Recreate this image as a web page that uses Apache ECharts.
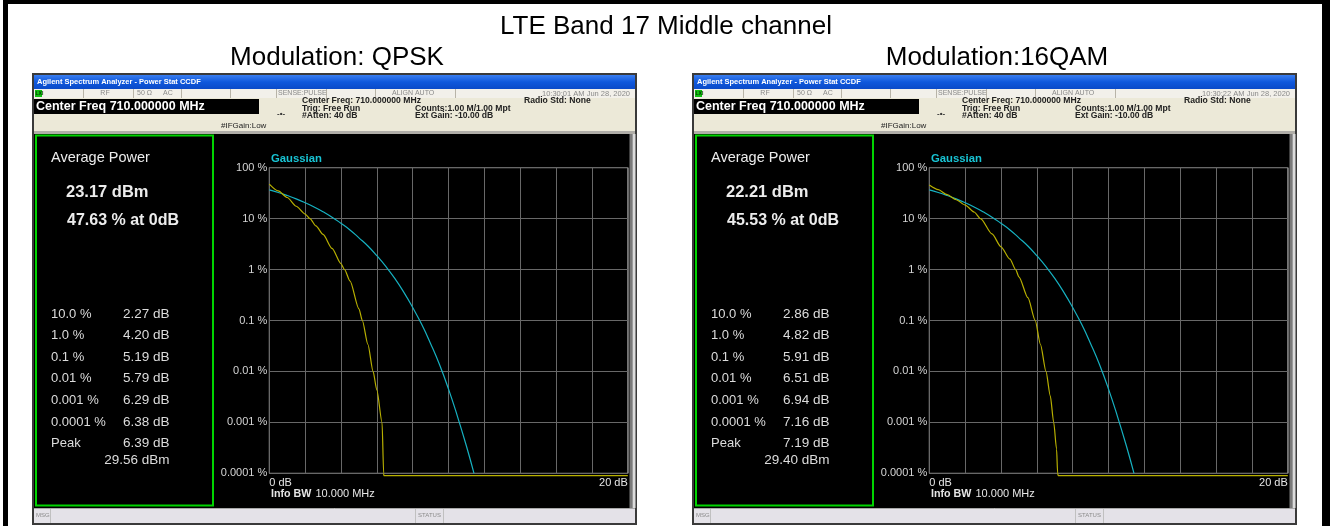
<!DOCTYPE html>
<html>
<head>
<meta charset="utf-8">
<script src="https://cdn.jsdelivr.net/npm/echarts@6/dist/echarts.min.js"></script>
<style>
html, body { margin: 0; padding: 0; background: #fff; }
#main { width: 1330px; height: 526px; }
</style>
</head>
<body>
<div id="main"></div>
<script>
// Gaussian reference curve (same on both screens)
const gaussDb  = [0, 0.5, 1, 1.5, 2, 2.5, 3, 3.5, 4, 4.5, 5, 5.5, 6, 6.5, 7, 7.5, 8, 8.5, 9, 9.5, 10, 10.5, 11, 11.42];
const gaussPct = [36.8, 32.6, 28.4, 24.4, 20.5, 16.9, 13.6, 10.7, 8.1, 6.0, 4.2, 2.9, 1.87, 1.15, 0.67, 0.36, 0.18, 0.084, 0.035, 0.0135, 0.0045, 0.0013, 0.00034, 0.0001];

// QPSK measured CCDF
const qpskDb  = [0, 0.5, 1, 1.5, 2, 2.27, 2.6, 3, 3.5, 4, 4.2, 4.5, 5, 5.19, 5.5, 5.79, 6.0, 6.29, 6.38, 6.39, 20];
const qpskPct = [47.6, 35, 26, 17.5, 12.3, 10, 7.2, 4.9, 2.6, 1.3, 1.0, 0.6, 0.17, 0.1, 0.034, 0.01, 0.0043, 0.001, 0.0001, 0.00009, 0.00009];

// 16QAM measured CCDF
const qamDb  = [0, 0.5, 1, 1.5, 2, 2.5, 2.86, 3.5, 4, 4.5, 4.82, 5, 5.5, 5.91, 6.2, 6.51, 6.75, 6.94, 7.1, 7.16, 7.19, 20];
const qamPct = [45.5, 37, 29.5, 23.5, 18.5, 13.5, 10, 5.0, 2.8, 1.6, 1.0, 0.72, 0.28, 0.1, 0.034, 0.01, 0.0033, 0.001, 0.0003, 0.0001, 0.00009, 0.00009];

const yTickLabels = ['0.0001 %', '0.001 %', '0.01 %', '0.1 %', '1 %', '10 %', '100 %'];
const xEndLabels = ['0 dB', '20 dB'];

const probLabels = ['10.0 %', '1.0 %', '0.1 %', '0.01 %', '0.001 %', '0.0001 %', 'Peak'];
const qpskStats = ['2.27 dB', '4.20 dB', '5.19 dB', '5.79 dB', '6.29 dB', '6.38 dB', '6.39 dB'];
const qamStats  = ['2.86 dB', '4.82 dB', '5.91 dB', '6.51 dB', '6.94 dB', '7.16 dB', '7.19 dB'];

const screens = [
  { ox: 0,   title: 'Modulation: QPSK', avg: '23.17 dBm', at0: '47.63 % at 0dB', stats: qpskStats, peak: '29.56 dBm', time: '10:30:01 AM Jun 28, 2020' },
  { ox: 660, title: 'Modulation:16QAM', avg: '22.21 dBm', at0: '45.53 % at 0dB', stats: qamStats,  peak: '29.40 dBm', time: '10:30:22 AM Jun 28, 2020' }
];

const FONT = '"Liberation Sans", Arial, sans-serif';

function R(x, y, w, h, fill, extra) {
  return Object.assign({ type: 'rect', z: -10, shape: { x: x, y: y, width: w, height: h }, style: { fill: fill } }, extra || {});
}
function T(text, x, y, font, fill, align) {
  return { type: 'text', z: 10, x: x, y: y,
    style: { text: text, font: font + ' ' + FONT, fill: fill, textAlign: align || 'left', textVerticalAlign: 'middle' } };
}
function L(x1, y1, x2, y2, color) {
  return { type: 'line', z: -9, shape: { x1: x1, y1: y1, x2: x2, y2: y2 }, style: { stroke: color, lineWidth: 1 } };
}

function screenGraphics(s) {
  const o = s.ox;
  const els = [];
  // window frame
  els.push(R(o + 32, 73, 605, 452, '#3a3a3a'));
  // title bar
  els.push(R(o + 34, 75, 601, 14, {
    type: 'linear', x: 0, y: 0, x2: 0, y2: 1,
    colorStops: [{ offset: 0, color: '#3a7ef0' }, { offset: 0.5, color: '#0f58dc' }, { offset: 1, color: '#0a4ac8' }]
  }));
  els.push(T('Agilent Spectrum Analyzer - Power Stat CCDF', o + 37, 82, 'bold 7.5px', '#ffffff'));
  // status row
  els.push(R(o + 34, 89, 601, 9, '#f2f0ea'));
  els.push(R(o + 35, 90, 7, 7, '#10c010'));
  els.push(T('LXI', o + 35.5, 93.5, 'bold 5px', '#003300'));
  [83, 133, 181, 230, 276, 326, 375, 455].forEach(function (x) { els.push(L(o + x + 0.5, 89, o + x + 0.5, 98, '#b8b4a8')); });
  els.push(T('RF', o + 105, 93.5, '7px', '#8a8a8a', 'center'));
  els.push(T('50 Ω', o + 137, 93.5, '7px', '#8a8a8a', 'left'));
  els.push(T('AC', o + 163, 93.5, '7px', '#8a8a8a', 'left'));
  els.push(T('SENSE:PULSE', o + 278, 93.5, '7px', '#8a8a8a', 'left'));
  els.push(T('ALIGN AUTO', o + 392, 93.5, '7px', '#8a8a8a', 'left'));
  els.push(T(s.time, o + 630, 93.5, '7.5px', '#8a8a8a', 'right'));
  // info area
  els.push(R(o + 34, 98, 601, 34, '#ece9d8'));
  els.push(R(o + 34, 99, 225, 15, '#000000'));
  els.push(T('Center Freq 710.000000 MHz', o + 36, 106.5, 'bold 12.5px', '#ffffff'));
  els.push(T('Center Freq: 710.000000 MHz', o + 302, 101, 'bold 8.6px', '#222222'));
  els.push(T('Trig: Free Run', o + 302, 108.5, 'bold 8.6px', '#222222'));
  els.push(T('#Atten: 40 dB', o + 302, 116, 'bold 8.6px', '#222222'));
  els.push(T('Counts:1.00 M/1.00 Mpt', o + 415, 108.5, 'bold 8.6px', '#222222'));
  els.push(T('Ext Gain: -10.00 dB', o + 415, 116, 'bold 8.6px', '#222222'));
  els.push(T('Radio Std: None', o + 524, 101, 'bold 8.6px', '#222222'));
  els.push(T('#IFGain:Low', o + 221, 126, '8px', '#222222'));
  els.push(T('-•-', o + 277, 114, 'bold 8px', '#333333'));
  els.push(R(o + 34, 131, 601, 3, '#b0aea8'));
  // main black display
  els.push(R(o + 34, 134, 598, 374, '#000000'));
  els.push(R(o + 629.5, 134, 3, 374, '#7a7a7a'));
  els.push(R(o + 632.5, 134, 3, 374, '#dcdcdc'));
  // stats panel
  els.push(R(o + 36, 135.5, 177, 370, '#000000', { style: { fill: '#000000', stroke: '#00d400', lineWidth: 2 } }));
  els.push(T('Average Power', o + 51, 157.5, '14.5px', '#ececec'));
  els.push(T(s.avg, o + 66, 192.5, 'bold 16.5px', '#ececec'));
  els.push(T(s.at0, o + 67, 220.5, 'bold 16px', '#ececec'));
  const rowY = [314, 335.7, 357.7, 378.7, 400, 422, 443.3];
  probLabels.forEach(function (lab, i) {
    els.push(T(lab, o + 51, rowY[i], '13px', '#dcdcdc'));
    els.push(T(s.stats[i], o + 169.5, rowY[i], '13.5px', '#dcdcdc', 'right'));
  });
  els.push(T(s.peak, o + 169.5, 460.7, '13.5px', '#dcdcdc', 'right'));
  // plot annotations
  els.push(T('Gaussian', o + 271, 158.5, 'bold 11.3px', '#18c4d4'));
  els.push(T('Info BW', o + 271, 494, 'bold 10.7px', '#e6e6e6'));
  els.push(T('10.000 MHz', o + 315.5, 494, '11px', '#e6e6e6'));
  // message bar
  els.push(R(o + 34, 508, 601, 15, '#e4e2e8'));
  els.push(L(o + 34, 508.5, o + 635, 508.5, '#a8a8a8'));
  els.push(L(o + 50.5, 509, o + 50.5, 523, '#c0c0c0'));
  els.push(T('MSG', o + 36, 515.5, '6px', '#8a8a8a'));
  els.push(L(o + 415.5, 509, o + 415.5, 523, '#c0c0c0'));
  els.push(L(o + 443.5, 509, o + 443.5, 523, '#c0c0c0'));
  els.push(T('STATUS', o + 429.5, 515.5, '6px', '#8a8a8a', 'center'));
  // captions above each screen
  els.push(T(s.title, o + 337, 58, '26px', '#000000', 'center'));
  return els;
}

let graphicEls = [
  R(0, 0, 1330, 526, '#ffffff', { z: -20 }),
  R(3, 0, 1324, 4, '#000000', { z: -19 }),
  R(3, 0, 5, 526, '#000000', { z: -19 }),
  R(1322, 0, 8, 526, '#000000', { z: -19 }),
  T('LTE Band 17 Middle channel', 666, 27, '26px', '#000000', 'center')
];
screens.forEach(function (s) { graphicEls = graphicEls.concat(screenGraphics(s)); });

const grids = [], xAxes = [], yAxes = [];
screens.forEach(function (s, i) {
  grids.push({ left: 269.3 + s.ox, top: 167.7, width: 358.5, height: 305.6, show: true,
    borderColor: '#a8a8a8', borderWidth: 1, backgroundColor: 'transparent' });
  xAxes.push({
    gridIndex: i, type: 'value', min: 0, max: 20, interval: 2,
    axisLine: { show: false }, axisTick: { show: false },
    splitLine: { show: true, lineStyle: { color: '#686868', width: 1 } },
    axisLabel: {
      color: '#e6e6e6', fontFamily: FONT, fontSize: 11, margin: 4,
      alignMinLabel: 'left', alignMaxLabel: 'right',
      formatter: function (v) { return v === 0 ? xEndLabels[0] : (v === 20 ? xEndLabels[1] : ''); }
    }
  });
  yAxes.push({
    gridIndex: i, type: 'log', logBase: 10, min: 0.0001, max: 100, interval: 1,
    axisLine: { show: false }, axisTick: { show: false },
    splitLine: { show: true, lineStyle: { color: '#686868', width: 1 } },
    axisLabel: {
      color: '#d4d4d4', fontFamily: FONT, fontSize: 11, margin: 2,
      formatter: function (v) { return yTickLabels[Math.round(Math.log10(v)) + 4]; }
    }
  });
});

function pairs(xs, ys) { return xs.map(function (x, k) { return [x, ys[k]]; }); }

const series = [];
[[qpskDb, qpskPct], [qamDb, qamPct]].forEach(function (d, i) {
  series.push({ type: 'line', xAxisIndex: i, yAxisIndex: i, data: pairs(gaussDb, gaussPct),
    symbol: 'none', smooth: true, clip: false, lineStyle: { color: '#16b2c2', width: 1.2 }, z: 3 });
  series.push({ type: 'line', xAxisIndex: i, yAxisIndex: i, data: pairs(d[0], d[1]),
    symbol: 'none', smooth: 0.25, smoothMonotone: 'x', clip: false,
    lineStyle: { color: '#b8b000', width: 1.2 }, z: 4 });
});

const myChart = echarts.init(document.getElementById('main'), null, { renderer: 'canvas' });
myChart.setOption({
  animation: false,
  backgroundColor: '#ffffff',
  graphic: { elements: graphicEls },
  grid: grids,
  xAxis: xAxes,
  yAxis: yAxes,
  series: series
});
</script>
</body>
</html>
